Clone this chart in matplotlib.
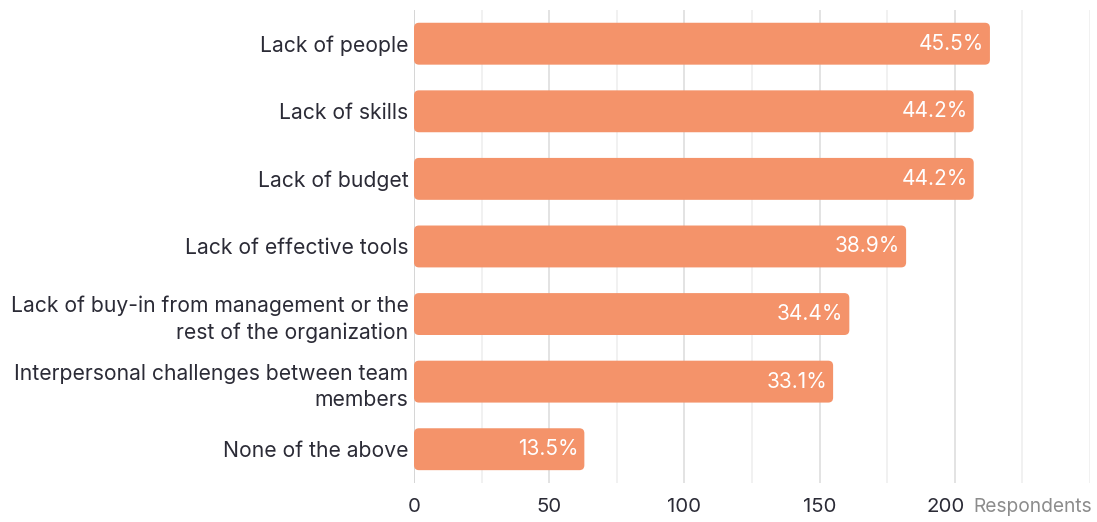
import matplotlib
matplotlib.use("Agg")
import matplotlib.pyplot as plt
import matplotlib.transforms as mtransforms
from matplotlib.patches import FancyBboxPatch
from matplotlib.ticker import MultipleLocator

categories = [
    "Lack of people",
    "Lack of skills",
    "Lack of budget",
    "Lack of effective tools",
    "Lack of buy-in from management or the\nrest of the organization",
    "Interpersonal challenges between team\nmembers",
    "None of the above",
]
respondents = [213, 207, 207, 182, 161, 155, 63]
total_respondents = 468
x_ticks = [0, 50, 100, 150, 200]

bar_color = "#F4936A"
text_color = "#2B2B36"

plt.rcParams["font.family"] = ["Inter", "DejaVu Sans"]

fig = plt.figure(figsize=(10.97, 5.22), dpi=100)
ax = fig.add_axes([0.3774, 0.0747, 0.6162, 0.9063])

xmax = 250
n = len(categories)
ax.set_xlim(0, xmax)
ax.set_ylim(n - 0.5, -0.5)

# grid: major every 50, minor every 25
ax.xaxis.set_major_locator(MultipleLocator(50))
ax.xaxis.set_minor_locator(MultipleLocator(25))
ax.grid(axis="x", which="major", color="#DEDEDE", linewidth=1.2, zorder=0)
ax.grid(axis="x", which="minor", color="#EFEFEF", linewidth=1.2, zorder=0)
ax.axvline(0, color="#D6D6D6", linewidth=1.4, zorder=1)
ax.set_axisbelow(True)

for s in ax.spines.values():
    s.set_visible(False)

bar_h = 0.62
# aspect between y data units per pixel and x data units per pixel
fig.canvas.draw()
bbox = ax.get_window_extent()
ux = xmax / bbox.width
uy = n / bbox.height
radius_px = 5

bars = ax.barh(range(n), respondents, height=bar_h, color="none")
for rect, val in zip(bars, respondents):
    y0 = rect.get_y()
    patch = FancyBboxPatch(
        (0, y0), val, bar_h,
        boxstyle=f"round,pad=0,rounding_size={radius_px * ux}",
        mutation_aspect=uy / ux,
        facecolor=bar_color, edgecolor="none", zorder=2,
    )
    ax.add_patch(patch)
    pct = val / total_respondents * 100
    ax.text(val - 6 * ux, y0 + bar_h / 2, f"{pct:.1f}%", ha="right", va="center",
            color="white", fontsize=15, zorder=3)

ax.set_yticks(range(n))
ax.set_yticklabels(categories, fontsize=15.2, color=text_color, linespacing=1.38)
ax.tick_params(axis="y", length=0, pad=4)

tick_pad = 11
ax.set_xticks(x_ticks)
ax.set_xticklabels([str(t) for t in x_ticks], fontsize=14.7, color=text_color)
ax.tick_params(axis="x", which="both", length=0, pad=tick_pad)

# nudge the last tick label left to leave room for the unit label
last = ax.get_xticklabels()[-1]
last.set_transform(last.get_transform() +
                   mtransforms.ScaledTranslation(-9 / 100, 0, fig.dpi_scale_trans))

ax.annotate("Respondents", xy=(xmax, 0), xycoords=ax.get_xaxis_transform(),
            xytext=(1.5, -tick_pad), textcoords="offset points",
            ha="right", va="top", fontsize=13.8, color="#8C8C8C")

fig.savefig("out.png", dpi=100, facecolor="white")
